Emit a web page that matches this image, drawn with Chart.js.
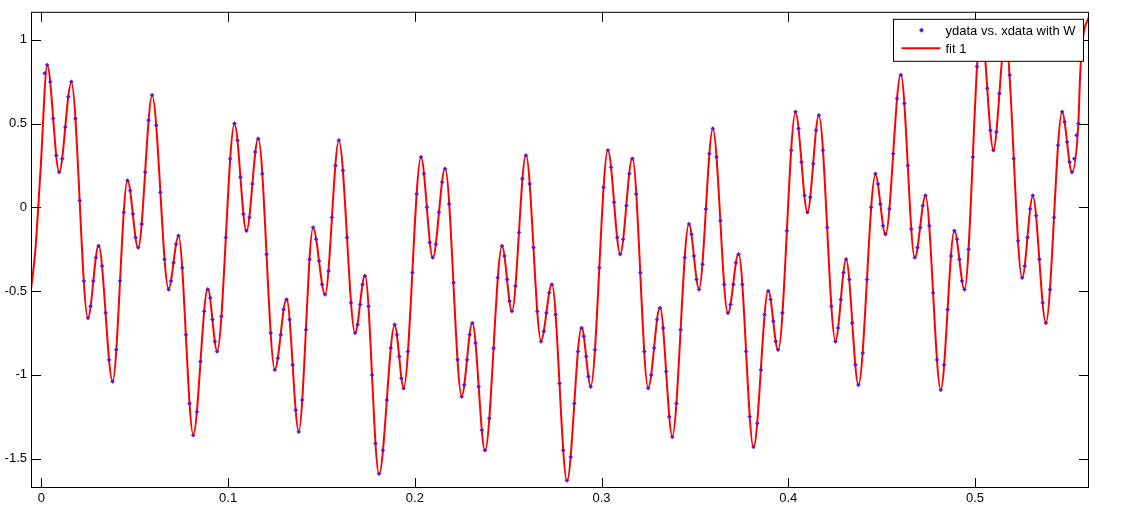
<!DOCTYPE html>
<html>
<head>
<meta charset="utf-8">
<title>fit 1</title>
<script src="https://cdn.jsdelivr.net/npm/chart.js@4"></script>
<style>
  html, body { margin: 0; padding: 0; background: #fff; }
  canvas { display: block; }
</style>
</head>
<body>
<canvas id="fitChart" width="1122" height="526"></canvas>
<script>
// axis ticks
const xTicks = [0, 0.1, 0.2, 0.3, 0.4, 0.5];
const yTicks = [-1.5, -1, -0.5, 0, 0.5, 1];

const dataLabel = "ydata vs. xdata with W";
const fitLabel = "fit 1";

const xdata = [
  0.0017,
  0.0031, 0.0047, 0.0063, 0.0079,
  0.0095, 0.0111, 0.0128, 0.0144,
  0.0160, 0.0182, 0.0205, 0.0227,
  0.0249, 0.0263, 0.0278, 0.0292,
  0.0306, 0.0325, 0.0344, 0.0362,
  0.0381, 0.0401, 0.0421, 0.0441,
  0.0461, 0.0475, 0.0490, 0.0504,
  0.0518, 0.0537, 0.0556, 0.0574,
  0.0593, 0.0615, 0.0637, 0.0659,
  0.0681, 0.0694, 0.0708, 0.0721,
  0.0734, 0.0754, 0.0774, 0.0793,
  0.0813, 0.0833, 0.0852, 0.0872,
  0.0891, 0.0904, 0.0916, 0.0929,
  0.0941, 0.0964, 0.0988, 0.1011,
  0.1034, 0.1050, 0.1066, 0.1082,
  0.1098, 0.1114, 0.1130, 0.1145,
  0.1161, 0.1183, 0.1206, 0.1228,
  0.1250, 0.1266, 0.1282, 0.1297,
  0.1313, 0.1329, 0.1346, 0.1362,
  0.1378, 0.1397, 0.1417, 0.1436,
  0.1455, 0.1471, 0.1487, 0.1503,
  0.1519, 0.1538, 0.1556, 0.1575,
  0.1593, 0.1615, 0.1637, 0.1658,
  0.1680, 0.1693, 0.1707, 0.1720,
  0.1733, 0.1752, 0.1771, 0.1789,
  0.1808, 0.1829, 0.1850, 0.1871,
  0.1892, 0.1904, 0.1916, 0.1928,
  0.1940, 0.1963, 0.1987, 0.2010,
  0.2033, 0.2049, 0.2065, 0.2080,
  0.2096, 0.2113, 0.2129, 0.2146,
  0.2162, 0.2184, 0.2207, 0.2229,
  0.2251, 0.2265, 0.2280, 0.2294,
  0.2308, 0.2325, 0.2342, 0.2359,
  0.2376, 0.2399, 0.2422, 0.2444,
  0.2467, 0.2480, 0.2494, 0.2507,
  0.2520, 0.2539, 0.2558, 0.2576,
  0.2595, 0.2615, 0.2636, 0.2656,
  0.2676, 0.2691, 0.2705, 0.2720,
  0.2734, 0.2754, 0.2775, 0.2795,
  0.2815, 0.2835, 0.2854, 0.2874,
  0.2893, 0.2905, 0.2918, 0.2930,
  0.2942, 0.2965, 0.2988, 0.3011,
  0.3034, 0.3051, 0.3067, 0.3084,
  0.3100, 0.3116, 0.3133, 0.3149,
  0.3165, 0.3186, 0.3208, 0.3229,
  0.3250, 0.3266, 0.3282, 0.3297,
  0.3313, 0.3330, 0.3346, 0.3363,
  0.3379, 0.3401, 0.3424, 0.3446,
  0.3468, 0.3482, 0.3495, 0.3509,
  0.3522, 0.3541, 0.3559, 0.3578,
  0.3596, 0.3616, 0.3637, 0.3657,
  0.3677, 0.3691, 0.3706, 0.3720,
  0.3734, 0.3754, 0.3774, 0.3794,
  0.3814, 0.3834, 0.3854, 0.3873,
  0.3893, 0.3906, 0.3920, 0.3933,
  0.3946, 0.3969, 0.3993, 0.4016,
  0.4039, 0.4055, 0.4071, 0.4087,
  0.4103, 0.4118, 0.4134, 0.4149,
  0.4164, 0.4186, 0.4209, 0.4231,
  0.4253, 0.4267, 0.4282, 0.4296,
  0.4310, 0.4327, 0.4343, 0.4360,
  0.4376, 0.4399, 0.4422, 0.4444,
  0.4467, 0.4481, 0.4494, 0.4508,
  0.4521, 0.4542, 0.4562, 0.4583,
  0.4603, 0.4622, 0.4641, 0.4659,
  0.4678, 0.4692, 0.4707, 0.4721,
  0.4735, 0.4756, 0.4776, 0.4797,
  0.4817, 0.4835, 0.4854, 0.4872,
  0.4890, 0.4904, 0.4917, 0.4931,
  0.4944, 0.4966, 0.4989, 0.5011,
  0.5033, 0.5050, 0.5066, 0.5083,
  0.5099, 0.5115, 0.5131, 0.5147,
  0.5163, 0.5186, 0.5208, 0.5231,
  0.5253, 0.5267, 0.5282, 0.5296,
  0.5310, 0.5328, 0.5345, 0.5363,
  0.5380, 0.5402, 0.5424, 0.5445,
  0.5467, 0.5480, 0.5494, 0.5507,
  0.5520, 0.5532, 0.5544, 0.5554
];
const ydata = [
  0.80,
  0.85, 0.75, 0.53, 0.31,
  0.21, 0.29, 0.48, 0.66,
  0.75, 0.53, 0.04, -0.44,
  -0.66, -0.59, -0.44, -0.30,
  -0.23, -0.35, -0.63, -0.91,
  -1.04, -0.85, -0.44, -0.03,
  0.16, 0.10, -0.04, -0.18,
  -0.24, -0.10, 0.21, 0.52,
  0.67, 0.49, 0.09, -0.31,
  -0.49, -0.44, -0.33, -0.22,
  -0.17, -0.36, -0.76, -1.17,
  -1.36, -1.22, -0.92, -0.62,
  -0.49, -0.54, -0.67, -0.80,
  -0.86, -0.65, -0.18, 0.29,
  0.50, 0.40, 0.18, -0.04,
  -0.14, -0.06, 0.14, 0.33,
  0.41, 0.20, -0.28, -0.75,
  -0.97, -0.90, -0.76, -0.61,
  -0.55, -0.67, -0.94, -1.21,
  -1.34, -1.15, -0.73, -0.31,
  -0.12, -0.19, -0.32, -0.46,
  -0.52, -0.38, -0.06, 0.25,
  0.40, 0.22, -0.18, -0.57,
  -0.75, -0.70, -0.58, -0.46,
  -0.41, -0.59, -1.00, -1.41,
  -1.59, -1.45, -1.15, -0.84,
  -0.70, -0.76, -0.89, -1.02,
  -1.08, -0.86, -0.39, 0.08,
  0.30, 0.20, 0.00, -0.21,
  -0.30, -0.22, -0.03, 0.15,
  0.23, 0.02, -0.45, -0.91,
  -1.13, -1.06, -0.91, -0.76,
  -0.69, -0.81, -1.07, -1.33,
  -1.45, -1.26, -0.84, -0.42,
  -0.23, -0.29, -0.43, -0.56,
  -0.62, -0.47, -0.15, 0.17,
  0.31, 0.14, -0.24, -0.62,
  -0.80, -0.74, -0.63, -0.51,
  -0.46, -0.64, -1.05, -1.45,
  -1.63, -1.49, -1.17, -0.86,
  -0.72, -0.77, -0.89, -1.01,
  -1.07, -0.85, -0.36, 0.12,
  0.34, 0.24, 0.03, -0.18,
  -0.28, -0.19, 0.01, 0.20,
  0.29, 0.08, -0.39, -0.86,
  -1.08, -1.00, -0.84, -0.67,
  -0.60, -0.72, -0.98, -1.25,
  -1.37, -1.17, -0.73, -0.30,
  -0.10, -0.16, -0.29, -0.43,
  -0.49, -0.34, -0.01, 0.32,
  0.47, 0.30, -0.08, -0.46,
  -0.63, -0.58, -0.46, -0.33,
  -0.28, -0.46, -0.86, -1.25,
  -1.43, -1.29, -0.97, -0.64,
  -0.50, -0.55, -0.68, -0.80,
  -0.85, -0.63, -0.14, 0.34,
  0.57, 0.47, 0.27, 0.07,
  -0.03, 0.06, 0.26, 0.46,
  0.55, 0.34, -0.12, -0.59,
  -0.80, -0.72, -0.55, -0.39,
  -0.31, -0.43, -0.69, -0.94,
  -1.06, -0.87, -0.43, 0.00,
  0.20, 0.14, 0.02, -0.11,
  -0.16, -0.01, 0.32, 0.65,
  0.79, 0.62, 0.25, -0.13,
  -0.30, -0.24, -0.12, 0.01,
  0.07, -0.11, -0.51, -0.91,
  -1.09, -0.94, -0.61, -0.29,
  -0.14, -0.19, -0.31, -0.44,
  -0.49, -0.25, 0.30, 0.84,
  1.08, 0.97, 0.71, 0.46,
  0.34, 0.45, 0.68, 0.91,
  1.01, 0.79, 0.29, -0.20,
  -0.42, -0.35, -0.18, -0.01,
  0.07, -0.05, -0.31, -0.57,
  -0.69, -0.49, -0.06, 0.37,
  0.57, 0.51, 0.39, 0.27,
  0.21, 0.29, 0.43, 0.50
];

// fitted curve: turning points of "fit 1" (runs across the whole x range)
const fitX = [
  -0.0056, -0.0033, -0.0004, 0.0031, 0.0095, 0.0160, 0.0249, 0.0306, 0.0381, 0.0461,
  0.0518, 0.0593, 0.0681, 0.0734, 0.0813, 0.0891, 0.0941, 0.1034, 0.1098, 0.1161,
  0.1250, 0.1313, 0.1378, 0.1455, 0.1519, 0.1593, 0.1680, 0.1733, 0.1808, 0.1892,
  0.1940, 0.2033, 0.2096, 0.2162, 0.2251, 0.2308, 0.2376, 0.2467, 0.2520, 0.2595,
  0.2676, 0.2734, 0.2815, 0.2893, 0.2942, 0.3034, 0.3100, 0.3165, 0.3250, 0.3313,
  0.3379, 0.3468, 0.3522, 0.3596, 0.3677, 0.3734, 0.3814, 0.3893, 0.3946, 0.4039,
  0.4103, 0.4164, 0.4253, 0.4310, 0.4376, 0.4467, 0.4521, 0.4603, 0.4678, 0.4735,
  0.4817, 0.4890, 0.4944, 0.5033, 0.5099, 0.5163, 0.5253, 0.5310, 0.5380, 0.5467,
  0.5520, 0.5554, 0.5564, 0.5577, 0.5611
];
const fitY = [
  -0.49, -0.26, 0.24, 0.846, 0.21, 0.745, -0.66, -0.228, -1.037, 0.161,
  -0.243, 0.666, -0.485, -0.173, -1.355, -0.485, -0.858, 0.497, -0.143, 0.413,
  -0.967, -0.546, -1.335, -0.123, -0.52, 0.397, -0.749, -0.405, -1.593, -0.703,
  -1.077, 0.298, -0.302, 0.234, -1.126, -0.689, -1.454, -0.232, -0.62, 0.314,
  -0.795, -0.457, -1.633, -0.715, -1.067, 0.34, -0.278, 0.294, -1.077, -0.596,
  -1.365, -0.099, -0.485, 0.467, -0.634, -0.276, -1.434, -0.497, -0.854, 0.566,
  -0.028, 0.548, -0.795, -0.312, -1.061, 0.195, -0.163, 0.794, -0.302, 0.066,
  -1.087, -0.139, -0.49, 1.08, 0.344, 1.01, -0.421, 0.066, -0.689, 0.568,
  0.21, 0.5, 0.8, 1.0, 1.14
];

const DOT_COLOR = "#5A19C8";
const FIT_COLOR = "#FF0000";
const FONT = { family: "'Liberation Sans', Arial, Helvetica, sans-serif", size: 13 };

// MATLAB style: white figure, boxed axes, inward ticks on all sides, boxed legend
const matlabAxes = {
    id: "matlabAxes",
    beforeDraw(chart) {
        const ctx = chart.ctx;
        ctx.save();
        ctx.fillStyle = "#fff";
        ctx.fillRect(0, 0, chart.width, chart.height);
        ctx.restore();
    },
    afterDraw(chart) {
        const { ctx, chartArea: a, scales } = chart;
        const tickLen = 10;
        ctx.save();
        ctx.strokeStyle = "#000";
        ctx.lineWidth = 1;
        ctx.beginPath();
        xTicks.forEach(v => {
            const px = Math.round(scales.x.getPixelForValue(v)) + 0.5;
            ctx.moveTo(px, a.bottom); ctx.lineTo(px, a.bottom - tickLen);
            ctx.moveTo(px, a.top); ctx.lineTo(px, a.top + tickLen);
        });
        yTicks.forEach(v => {
            const py = Math.round(scales.y.getPixelForValue(v)) + 0.5;
            ctx.moveTo(a.left, py); ctx.lineTo(a.left + tickLen, py);
            ctx.moveTo(a.right, py); ctx.lineTo(a.right - tickLen, py);
        });
        ctx.stroke();
        ctx.strokeRect(a.left + 0.5, a.top + 0.5, a.right - a.left - 1, a.bottom - a.top - 1);

        // legend box
        const lx = a.right - 195.5, ly = a.top + 7.5, lw = 190, lh = 42;
        ctx.fillStyle = "#fff";
        ctx.fillRect(lx, ly, lw, lh);
        ctx.strokeRect(lx, ly, lw, lh);

        // row 1: data marker
        const mx = lx + 28, my = ly + 11;
        ctx.fillStyle = DOT_COLOR;
        ctx.beginPath();
        ctx.moveTo(mx, my - 2.5); ctx.lineTo(mx + 2.5, my);
        ctx.lineTo(mx, my + 2.5); ctx.lineTo(mx - 2.5, my);
        ctx.closePath();
        ctx.fill();

        // row 2: fit line
        ctx.strokeStyle = FIT_COLOR;
        ctx.lineWidth = 2;
        ctx.beginPath();
        ctx.moveTo(lx + 8, ly + 29); ctx.lineTo(lx + 47, ly + 29);
        ctx.stroke();

        ctx.fillStyle = "#000";
        ctx.font = FONT.size + "px " + FONT.family;
        ctx.textBaseline = "middle";
        ctx.textAlign = "left";
        ctx.fillText(dataLabel, lx + 52, ly + 12);
        ctx.fillText(fitLabel, lx + 52, ly + 30);
        ctx.restore();
    }
};

new Chart(document.getElementById("fitChart"), {
    type: "scatter",
    data: {
        datasets: [
            {
                label: dataLabel,
                data: xdata.map((x, i) => ({ x: x, y: ydata[i] })),
                pointStyle: "rectRot",
                pointRadius: 2,
                pointBorderWidth: 0.5,
                backgroundColor: DOT_COLOR,
                borderColor: DOT_COLOR,
                showLine: false,
                order: 0
            },
            {
                label: fitLabel,
                data: fitX.map((x, i) => ({ x: x, y: fitY[i] })),
                showLine: true,
                borderColor: FIT_COLOR,
                borderWidth: 2,
                pointRadius: 0,
                fill: false,
                cubicInterpolationMode: "monotone",
                order: 1
            }
        ]
    },
    options: {
        responsive: false,
        animation: false,
        devicePixelRatio: 1,
        layout: { padding: { left: 0, right: 33, top: 10, bottom: 0 } },
        plugins: {
            legend: { display: false },
            tooltip: { enabled: false }
        },
        scales: {
            x: {
                type: "linear",
                min: -0.0056,
                max: 0.5611,
                grid: { display: false, drawTicks: false },
                border: { display: false },
                afterBuildTicks: s => { s.ticks = xTicks.map(v => ({ value: v })); },
                afterFit: s => { s.height = 38; },
                ticks: {
                    color: "#000",
                    font: FONT,
                    padding: 3,
                    maxRotation: 0,
                    autoSkip: false,
                    callback: v => String(v)
                }
            },
            y: {
                type: "linear",
                min: -1.675,
                max: 1.167,
                grid: { display: false, drawTicks: false },
                border: { display: false },
                afterBuildTicks: s => { s.ticks = yTicks.map(v => ({ value: v })); },
                afterFit: s => { s.width = 31; },
                ticks: {
                    color: "#000",
                    font: FONT,
                    padding: 4,
                    autoSkip: false,
                    callback: v => String(v)
                }
            }
        }
    },
    plugins: [matlabAxes]
});
</script>
</body>
</html>
